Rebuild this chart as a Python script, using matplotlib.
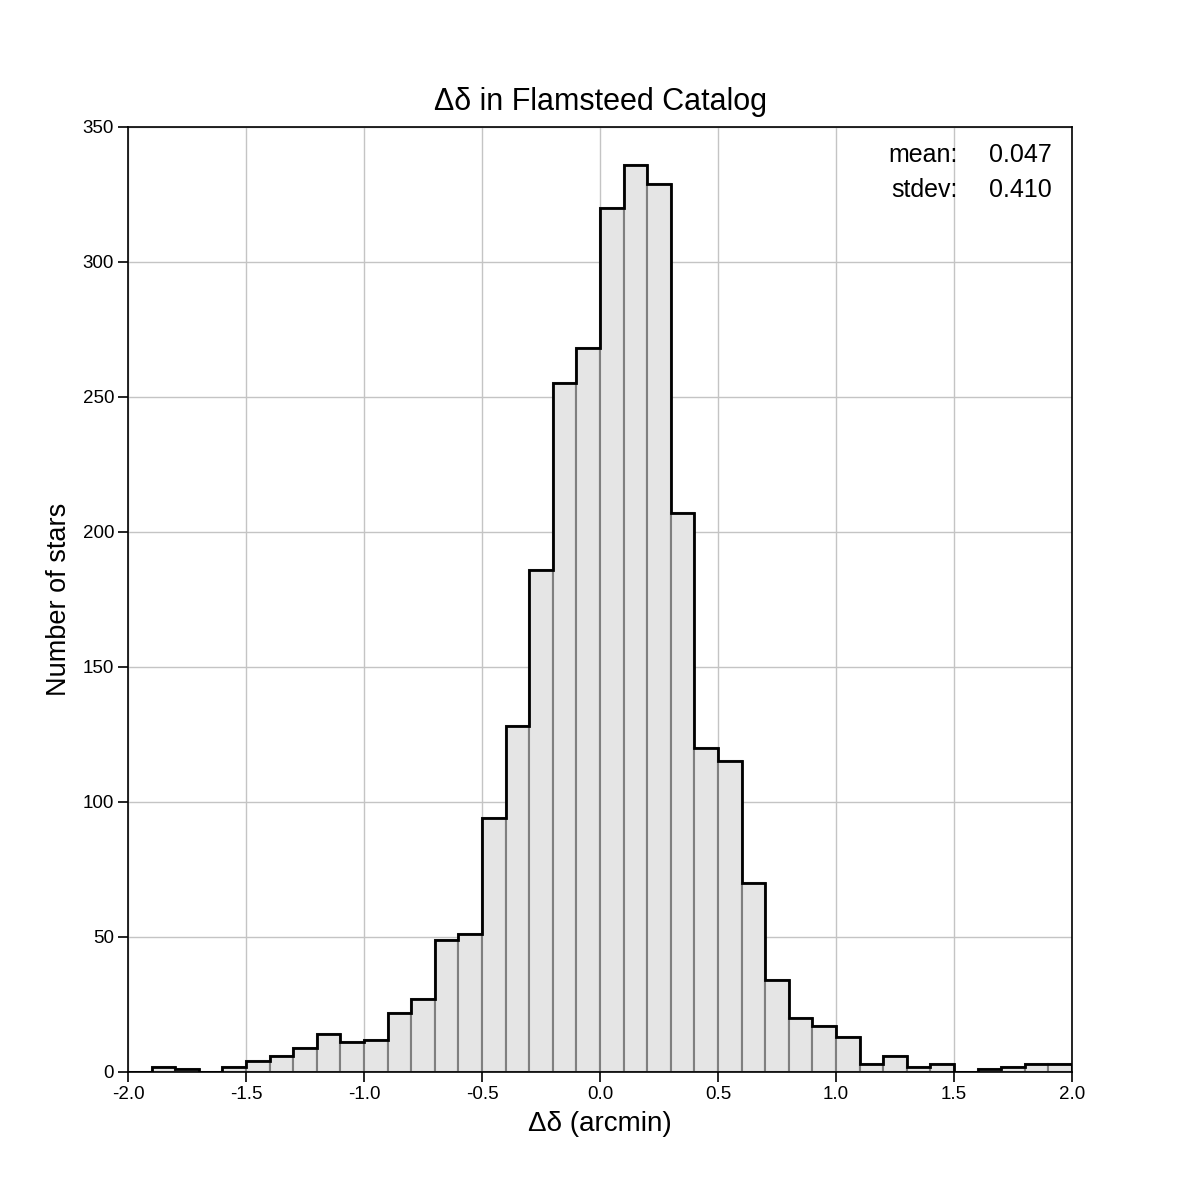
import matplotlib
matplotlib.use('Agg')
import matplotlib.pyplot as plt
import numpy as np

plt.rcParams['font.family'] = ['Liberation Sans', 'DejaVu Sans']

# histogram of declination residuals, bins of 0.1 arcmin from -2.0 to 2.0
bin_edges = [round(-2.0 + 0.1 * i, 1) for i in range(41)]
counts = [0, 2, 1, 0, 2, 4, 6, 9, 14, 11,
          12, 22, 27, 49, 51, 94, 128, 186, 255, 268,
          320, 336, 329, 207, 120, 115, 70, 34, 20, 17,
          13, 3, 6, 2, 3, 0, 1, 2, 3, 3]
x_ticks = [-2.0, -1.5, -1.0, -0.5, 0.0, 0.5, 1.0, 1.5, 2.0]
y_ticks = [0, 50, 100, 150, 200, 250, 300, 350]
mean_val = 0.047
stdev_val = 0.410

fig = plt.figure(figsize=(12, 12), dpi=100)
ax = fig.add_axes([0.1067, 0.1067, 0.7866, 0.7875])

edges = np.array(bin_edges)
ax.bar(edges[:-1], counts, width=np.diff(edges), align='edge',
       color='#e5e5e5', edgecolor='#7f7f7f', linewidth=1.5, zorder=2)
ax.stairs(counts, edges, color='black', linewidth=2, zorder=3)

ax.set_xlim(-2.0, 2.0)
ax.set_ylim(0, 350)
ax.set_xticks(x_ticks)
ax.set_xticklabels([f'{t:.1f}' for t in x_ticks])
ax.set_yticks(y_ticks)
ax.tick_params(direction='out', length=7, width=1.2, labelsize=13.5, pad=3)
ax.grid(True, color='#c4c4c4', linewidth=1)
ax.set_axisbelow(True)
for s in ax.spines.values():
    s.set_linewidth(1.2)

ax.set_xlabel('Δδ (arcmin)', fontsize=20, labelpad=6)
ax.set_ylabel('Number of stars', fontsize=19.5, labelpad=8)
ax.set_title('Δδ in Flamsteed Catalog', fontsize=22, pad=12)

ax.text(0.879, 0.970, 'mean:', transform=ax.transAxes, ha='right', va='center', fontsize=18)
ax.text(0.979, 0.970, f'{mean_val:.3f}', transform=ax.transAxes, ha='right', va='center', fontsize=18)
ax.text(0.879, 0.933, 'stdev:', transform=ax.transAxes, ha='right', va='center', fontsize=18)
ax.text(0.979, 0.933, f'{stdev_val:.3f}', transform=ax.transAxes, ha='right', va='center', fontsize=18)

fig.savefig('out.png', dpi=100, facecolor='white')
